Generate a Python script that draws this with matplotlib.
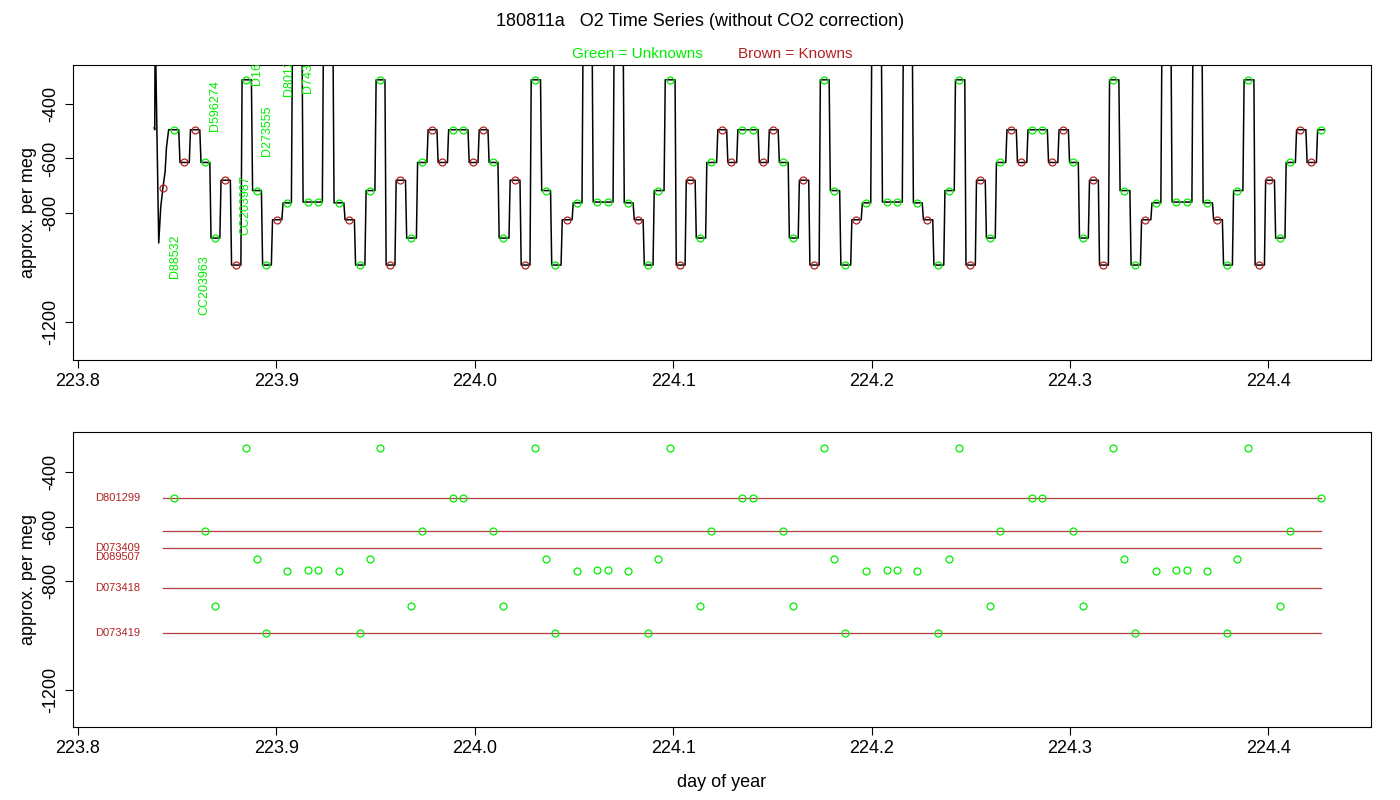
import numpy as np
import matplotlib.pyplot as plt

plt.rcParams["font.family"] = "Liberation Sans"

# plateau centres (day of year), level (per meg) and kind: U unknown, K known, S off-scale spike
plat_t = [223.8484, 223.8534, 223.8590, 223.8640, 223.8691, 223.8741, 223.8797, 223.8847, 223.8903, 223.8948,
          223.9003, 223.9054, 223.9099, 223.9160, 223.9210, 223.9255, 223.9316, 223.9366, 223.9422, 223.9472,
          223.9523, 223.9573, 223.9624, 223.9679, 223.9734, 223.9785, 223.9835, 223.9891, 223.9941, 223.9992,
          224.0042, 224.0092, 224.0143, 224.0203, 224.0254, 224.0304, 224.0360, 224.0405, 224.0466, 224.0516,
          224.0566, 224.0617, 224.0672, 224.0723, 224.0773, 224.0824, 224.0874, 224.0924, 224.0985, 224.1035,
          224.1086, 224.1136, 224.1192, 224.1247, 224.1293, 224.1348, 224.1403, 224.1454, 224.1504, 224.1555,
          224.1605, 224.1656, 224.1711, 224.1761, 224.1812, 224.1867, 224.1923, 224.1973, 224.2019, 224.2079,
          224.2130, 224.2180, 224.2230, 224.2281, 224.2336, 224.2392, 224.2442, 224.2498, 224.2548, 224.2598,
          224.2649, 224.2704, 224.2755, 224.2810, 224.2861, 224.2911, 224.2967, 224.3017, 224.3067, 224.3118,
          224.3168, 224.3219, 224.3274, 224.3330, 224.3380, 224.3435, 224.3481, 224.3536, 224.3592, 224.3637,
          224.3693, 224.3743, 224.3793, 224.3844, 224.3899, 224.3955, 224.4005, 224.4056, 224.4111, 224.4161,
          224.4217, 224.4267]
plat_v = [-495, -615, -495, -615, -892, -680, -991, -312, -718, -991,
          -825, -763, -100, -760, -760, -100, -763, -825, -991, -718,
          -312, -991, -680, -892, -615, -495, -615, -495, -495, -615,
          -495, -615, -892, -680, -991, -312, -718, -991, -825, -763,
          -100, -760, -760, -100, -763, -825, -991, -718, -312, -991,
          -680, -892, -615, -495, -615, -495, -495, -615, -495, -615,
          -892, -680, -991, -312, -718, -991, -825, -763, -100, -760,
          -760, -100, -763, -825, -991, -718, -312, -991, -680, -892,
          -615, -495, -615, -495, -495, -615, -495, -615, -892, -680,
          -991, -312, -718, -991, -825, -763, -100, -760, -760, -100,
          -763, -825, -991, -718, -312, -991, -680, -892, -615, -495,
          -615, -495]
plat_kind = list("UKKUUKKUUU"
                 "KUSUUSUKUU"
                 "UKKUUKKUUK"
                 "KUUKKUUUKU"
                 "SUUSUKUUUK"
                 "KUUKKUUKKU"
                 "UKKUUUKUSU"
                 "USUKUUUKKU"
                 "UKKUUKKUUK"
                 "KUUUKUSUUS"
                 "UKUUUKKUUK"
                 "KU")

# start-up transient
start_t = [223.8385, 223.8388, 223.8390, 223.8408, 223.8418, 223.8429, 223.8440, 223.8447]
start_v = [-488, -495, -100, -910, -780, -708, -650, -560]

# known reference lines (bottom panel)
known_levels = [-495, -615, -680, -825, -991]
known_names = ["D801299", "", "D073409", "D073418", "D073419"]
extra_name, extra_level = "D089507", -712

# rotated sample labels in top panel: time, level of text base, name
lab_t = [223.8489, 223.8640, 223.8691, 223.8847, 223.8953, 223.8903, 223.9064, 223.9160]
lab_v = [-1039, -1174, -499, -881, -591, -330, -371, -360]
lab_s = ["D88532", "CC203963", "D596274", "CC203987", "D273555", "D163445", "D801287", "D743634"]

green = "#00ee00"
brown = "#b22222"

# build step trace
tt = list(start_t)
vv = list(start_v)
edges = [(plat_t[i] + plat_t[i + 1]) / 2 for i in range(len(plat_t) - 1)]
lefts = [223.8452] + edges
rights = edges + [plat_t[-1] + 0.0015]
for l, r, v in zip(lefts, rights, plat_v):
    tt += [l + 0.0006, r]
    vv += [v, v]

fig = plt.figure(figsize=(14, 8), dpi=100)
ax1 = fig.add_axes([0.052, 0.55, 0.927, 0.369])
ax2 = fig.add_axes([0.052, 0.091, 0.927, 0.369])

ax1.plot(tt, vv, color="black", lw=1.1)
for t, v, k in zip(plat_t, plat_v, plat_kind):
    if k == "S":
        continue
    ax1.plot(t, v, "o", mfc="none", mec=green if k == "U" else brown, ms=5, mew=0.9)
ax1.plot(223.8429, -708, "o", mfc="none", mec=brown, ms=5, mew=0.9)
for t, v, s in zip(lab_t, lab_v, lab_s):
    ax1.text(t, v, s, rotation=90, color=green, fontsize=9, ha="center", va="bottom", clip_on=True)

for lv, nm in zip(known_levels, known_names):
    ax2.plot([223.8429, 224.4267], [lv, lv], color="#a01010", lw=0.9, alpha=0.8)
    if nm:
        ax2.text(223.8086, lv, nm, color=brown, fontsize=8, va="center")
ax2.text(223.8086, extra_level, extra_name, color=brown, fontsize=8, va="center")
for t, v, k in zip(plat_t, plat_v, plat_kind):
    if k == "U":
        ax2.plot(t, v, "o", mfc="none", mec=green, ms=5, mew=0.9)

for ax in (ax1, ax2):
    ax.set_xlim(223.7975, 224.4515)
    ax.set_xticks([223.8, 223.9, 224.0, 224.1, 224.2, 224.3, 224.4])
    ax.set_xticklabels(["223.8", "223.9", "224.0", "224.1", "224.2", "224.3", "224.4"], fontsize=13)
    ax.set_yticks([-400, -600, -800, -1200])
    ax.set_yticklabels(["-400", "-600", "-800", "-1200"], fontsize=13, rotation=90, va="center")
    ax.set_ylabel("approx. per meg", fontsize=13)
    ax.tick_params(length=6)
ax1.set_ylim(-1339, -257)
ax2.set_ylim(-1336, -253)
ax2.set_xlabel("day of year", fontsize=13, labelpad=12)

fig.text(0.5, 0.967, "180811a   O2 Time Series (without CO2 correction)", ha="center", fontsize=13)
fig.text(0.455, 0.928, "Green = Unknowns", color=green, ha="center", fontsize=11)
fig.text(0.568, 0.928, "Brown = Knowns", color=brown, ha="center", fontsize=11)

fig.savefig("out.png")
